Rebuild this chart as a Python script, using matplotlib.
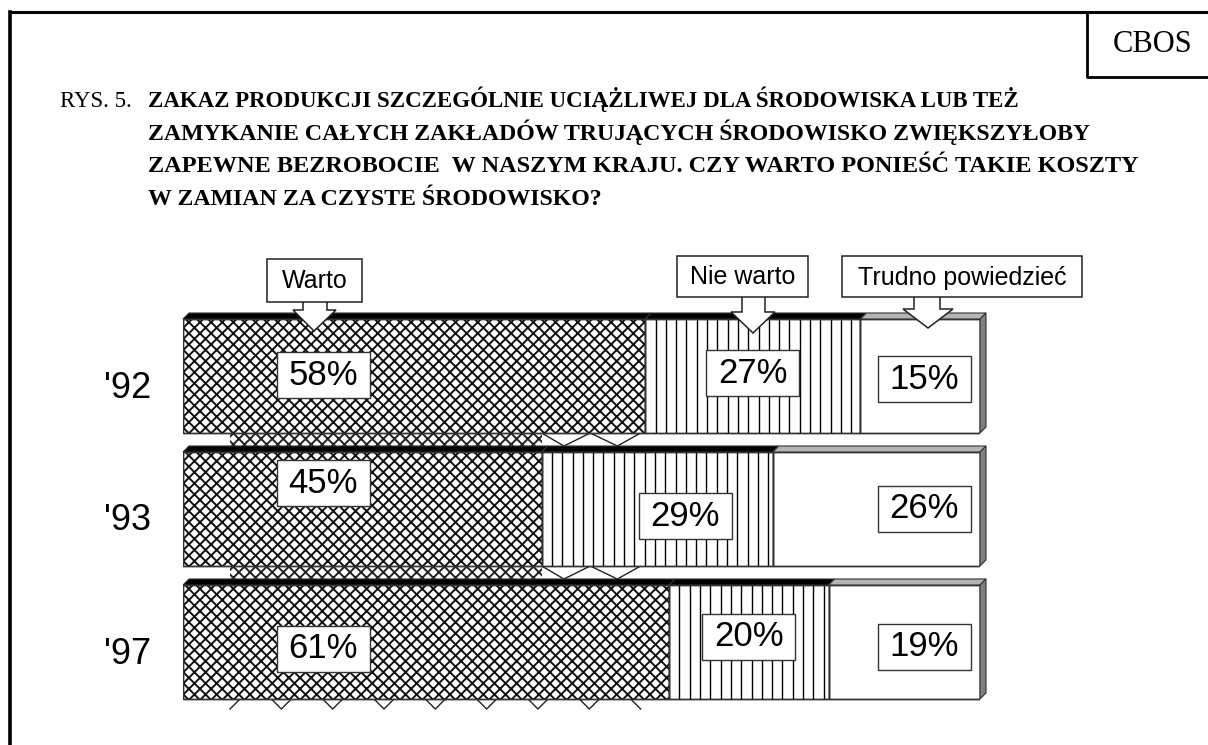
import numpy as np
import matplotlib
matplotlib.use("Agg")
import matplotlib.pyplot as plt
from matplotlib.patches import Rectangle, Polygon
from matplotlib.transforms import ScaledTranslation

# ---------------- data ----------------
years = ["'92", "'93", "'97"]
series_names = ["Warto", "Nie warto", "Trudno powiedzieć"]
warto = [58, 45, 61]
nie_warto = [27, 29, 20]
trudno = [15, 26, 19]

title_lines = [
    "ZAKAZ PRODUKCJI SZCZEGÓLNIE UCIĄŻLIWEJ DLA ŚRODOWISKA LUB TEŻ",
    "ZAMYKANIE CAŁYCH ZAKŁADÓW TRUJĄCYCH ŚRODOWISKO ZWIĘKSZYŁOBY",
    "ZAPEWNE BEZROBOCIE  W NASZYM KRAJU. CZY WARTO PONIEŚĆ TAKIE KOSZTY",
    "W ZAMIAN ZA CZYSTE ŚRODOWISKO?",
]
title_prefix = "RYS. 5."
source = "CBOS"

# ---------------- figure ----------------
W, H = 1208, 745
fig = plt.figure(figsize=(W / 100, H / 100), dpi=100)
fig.patch.set_facecolor("white")

SANS = ["Liberation Sans", "DejaVu Sans"]
SERIF = ["Liberation Serif", "DejaVu Serif"]
plt.rcParams["hatch.linewidth"] = 1.4

# background / overlay axes in pixel coordinates
bg = fig.add_axes([0, 0, 1, 1])
bg.set_xlim(0, W)
bg.set_ylim(H, 0)
bg.axis("off")
bg.set_zorder(0)

# frame
bg.plot([10, 10], [H + 5, 12], color="black", lw=2.6, solid_capstyle="projecting")
bg.plot([10, W + 5], [12, 12], color="black", lw=2.2, solid_capstyle="projecting")
# CBOS box
bg.plot([1087, 1087, W + 5], [12, 77, 77], color="black", lw=2.0)
bg.text(1153, 44, source, fontsize=22, family=SERIF, ha="center", va="center")

# title
title_sizes = [16.5, 17.2, 17.5, 17.2]
bg.text(60, 107, title_prefix, fontsize=16.5, family=SERIF, ha="left", va="baseline")
for i, line in enumerate(title_lines):
    bg.text(148, 107 + i * 32.7, line, fontsize=title_sizes[i], family=SERIF,
            fontweight="bold", ha="left", va="baseline")

# ---------------- bar axes ----------------
x0px, x1px = 183, 980
y_top_px, y_bot_px = 309.5, 708.5
ax = fig.add_axes([x0px / W, 1 - y_bot_px / H, (x1px - x0px) / W,
                   (y_bot_px - y_top_px) / H])
ax.set_xlim(0, 100)
ax.set_ylim(2.5, -0.5)
ax.set_facecolor("none")
for s in ax.spines.values():
    s.set_visible(False)
ax.set_xticks([])
ax.set_zorder(1)

px_x = 100 / (x1px - x0px)          # data units per pixel (x)
px_y = 3 / (y_bot_px - y_top_px)    # data units per pixel (y)

ypos = np.arange(len(years))
bh = 114 * px_y
dx, dy = 6 * px_x, 6 * px_y

warto_a = np.array(warto, float)
nie_a = np.array(nie_warto, float)
tru_a = np.array(trudno, float)
lefts = [np.zeros(3), warto_a, warto_a + nie_a]
vals = [warto_a, nie_a, tru_a]

# artifacts between bars (3D floor remnants)
tick_x = 5.9 + 6.44 * np.arange(9)
for i in range(len(years) - 1):
    gtop = ypos[i] + bh / 2
    gbot = ypos[i + 1] - bh / 2 - dy
    xend = warto_a.min()
    ax.add_patch(Rectangle((tick_x[0], gtop), xend - tick_x[0], gbot - gtop,
                           facecolor="white", edgecolor="#222222", hatch="xxx",
                           lw=0, zorder=1))
    zx = [xend, xend + 2.8, xend + 6.1, xend + 9.5, tick_x[-1]]
    zy = [gtop, gbot, gtop, gbot, gtop]
    ax.plot(zx, zy, color="#222222", lw=1, zorder=1)
# V marks under the last bar
vb = ypos[-1] + bh / 2
vd = 10 * px_y
vw = 10 * px_x
for k, tx in enumerate(tick_x):
    xs = [tx - vw, tx, tx + vw]
    ys = [vb, vb + vd, vb]
    if k == 0:
        xs, ys = xs[1:], ys[1:]
    elif k == len(tick_x) - 1:
        xs, ys = xs[:2], ys[:2]
    ax.plot(xs, ys, color="#222222", lw=1, clip_on=False, zorder=1)

# bars
hatches = ["xxx", None, None]
for j in range(3):
    ax.barh(ypos, vals[j], left=lefts[j], height=bh, color="white",
            edgecolor="#111111", hatch=hatches[j], linewidth=1.0, zorder=3)
# outlines on top of hatch
for j in range(3):
    ax.barh(ypos, vals[j], left=lefts[j], height=bh, color="none",
            edgecolor="#333333", linewidth=1.0, zorder=4)

# vertical line fill for "Nie warto"
vstep = 10.3 * px_x
for i in range(len(years)):
    l, r = lefts[1][i], lefts[1][i] + nie_a[i]
    xs = np.arange(l + vstep, r - 0.3, vstep)
    ax.vlines(xs, ypos[i] - bh / 2, ypos[i] + bh / 2, color="black",
              lw=1.0, zorder=3.5)

# 3D top faces and right side
top_colors = ["black", "black", "#b4b4b4"]
for i in range(len(years)):
    top = ypos[i] - bh / 2
    bot = ypos[i] + bh / 2
    for j in range(3):
        l = lefts[j][i]
        r = l + vals[j][i]
        ax.add_patch(Polygon([(l, top), (r, top), (r + dx, top - dy),
                              (l + dx, top - dy)], closed=True,
                             facecolor=top_colors[j], edgecolor="#333333",
                             lw=0.8, zorder=4, clip_on=False))
    right = lefts[2][i] + tru_a[i]
    ax.add_patch(Polygon([(right, top), (right + dx, top - dy),
                          (right + dx, bot - dy), (right, bot)], closed=True,
                         facecolor="#7f7f7f", edgecolor="#333333", lw=0.8,
                         zorder=4, clip_on=False))

# value labels in boxes
label_x = [[17.6, 17.6, 17.6], [71.5, 63.0, 71.0], [93.0, 93.0, 93.0]]
label_dy = [[-1, -26, 7], [-3, 7, -5], [3, 0, 5]]
box_w, box_h = 93 * px_x, 46 * px_y
for j in range(3):
    for i in range(len(years)):
        cx = label_x[j][i]
        cy = ypos[i] + label_dy[j][i] * px_y
        ax.add_patch(Rectangle((cx - box_w / 2, cy - box_h / 2), box_w, box_h,
                               facecolor="white", edgecolor="#333333", lw=1.0,
                               zorder=5))
        ax.text(cx, cy, f"{int(vals[j][i])}%", fontsize=25, family=SANS,
                ha="center", va="center", zorder=6)

# year labels
ax.set_yticks(ypos)
ax.set_yticklabels(years, fontsize=26, family=SANS)
ax.tick_params(axis="y", length=0, pad=23)
for k, lab in enumerate(ax.get_yticklabels()):
    lab.set_transform(lab.get_transform() +
                      ScaledTranslation(0, -8 / 100, fig.dpi_scale_trans))

# ---------------- legend callouts (overlay) ----------------
ov = fig.add_axes([0, 0, 1, 1])
ov.set_xlim(0, W)
ov.set_ylim(H, 0)
ov.axis("off")
ov.set_zorder(5)
ov.patch.set_visible(False)

callouts = [
    # box x0, x1, y0, y1, shaft x0, x1, head x0, x1, head y, tip x, tip y
    (267, 362, 259, 302, 303, 327, 293, 336, 310, 314, 331),
    (677, 808, 256, 297, 742, 765, 731, 775, 312, 753, 333),
    (842, 1082, 256, 297, 914, 940, 903, 953, 309, 928, 328),
]
for name, c in zip(series_names, callouts):
    bx0, bx1, by0, by1, sx0, sx1, hx0, hx1, hy, tx, ty = c
    ov.add_patch(Polygon([(sx0, by1 - 1), (sx0, hy), (hx0, hy), (tx, ty),
                          (hx1, hy), (sx1, hy), (sx1, by1 - 1)], closed=True,
                         facecolor="white", edgecolor="#222222", lw=1.1))
    ov.add_patch(Rectangle((bx0, by0), bx1 - bx0, by1 - by0, facecolor="white",
                           edgecolor="#222222", lw=1.1))
    ov.text((bx0 + bx1) / 2, (by0 + by1) / 2 + 1, name, fontsize=18,
            family=SANS, ha="center", va="center")

fig.savefig("out.png", dpi=100)
